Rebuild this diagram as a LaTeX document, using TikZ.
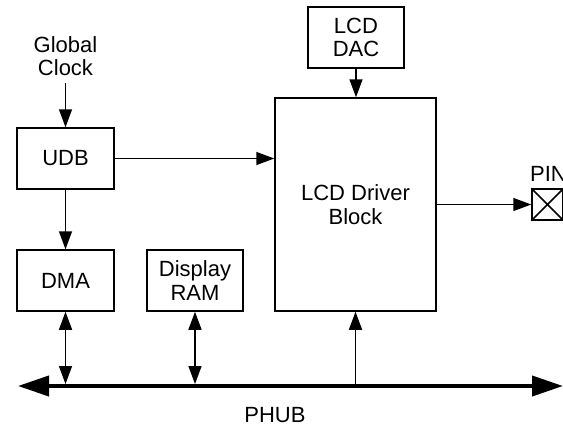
\documentclass[tikz,border=0pt]{standalone}
\usepackage{fontspec}
\setmainfont{Liberation Sans}
\usetikzlibrary{arrows.meta}
\begin{document}
\begin{tikzpicture}[x=1pt,y=-1pt,
  every node/.style={font=\fontsize{22}{23.5}\selectfont},
  blk/.style={draw,line width=1.5pt,inner sep=0pt,align=center},
  arr/.style={line width=1.5pt,-{Triangle[length=18pt,width=13pt]}},
  darr/.style={line width=1.5pt,{Triangle[length=18pt,width=13pt]}-{Triangle[length=18pt,width=13pt]}},
  busline/.style={line width=4pt,{Triangle[length=31pt,width=20pt]}-{Triangle[length=31pt,width=20pt]}}]
\clip (0,0) rectangle (563,426);
\fill[white] (0,0) rectangle (563,426);
% blocks
\node[blk,minimum width=97pt,minimum height=61pt] (udb) at (65.5,158.5) {UDB};
\node[blk,minimum width=97pt,minimum height=61pt] (dma) at (65.5,280.5) {DMA};
\node[blk,minimum width=96pt,minimum height=61pt] (ram) at (195,280.5) {Display\\RAM};
\node[blk,minimum width=96pt,minimum height=61pt] (dac) at (356,37.5) {LCD\\DAC};
\node[blk,minimum width=161pt,minimum height=213pt] (lcd) at (355.5,204.5) {LCD Driver\\Block};
\node[draw,line width=1.5pt,minimum width=31pt,minimum height=31pt,inner sep=0pt] (pin) at (547.5,204.5) {};
\draw[line width=1.5pt] (pin.north west) -- (pin.south east) (pin.south west) -- (pin.north east);
\node[anchor=base west,inner sep=0pt] (pinlbl) at (530,181) {PIN};
\node[align=center,inner sep=0pt] (clock) at (65.5,56) {Global\\Clock};
\node[inner sep=0pt] (phub) at (275,415) {PHUB};
% bus
\coordinate (busL) at (18,386);
\coordinate (busR) at (563,386);
\coordinate (busTop) at (0,384);
\draw[busline] (busL) -- (busR);
% connectors
\draw[arr] (clock.south |- 0,83) -- (clock.south |- udb.north);
\draw[arr] (udb.east) -- (udb.east -| lcd.west);
\draw[arr] (udb.south) -- (dma.north);
\draw[arr] (dac.south) -- (dac.south |- lcd.north);
\draw[arr] (lcd.east |- pin.west) -- (pin.west);
\draw[darr] (dma.south) -- (dma.south |- busTop);
\draw[darr] (ram.south) -- (ram.south |- busTop);
\draw[arr] (lcd.south |- busL) -- (lcd.south);
\end{tikzpicture}
\end{document}
